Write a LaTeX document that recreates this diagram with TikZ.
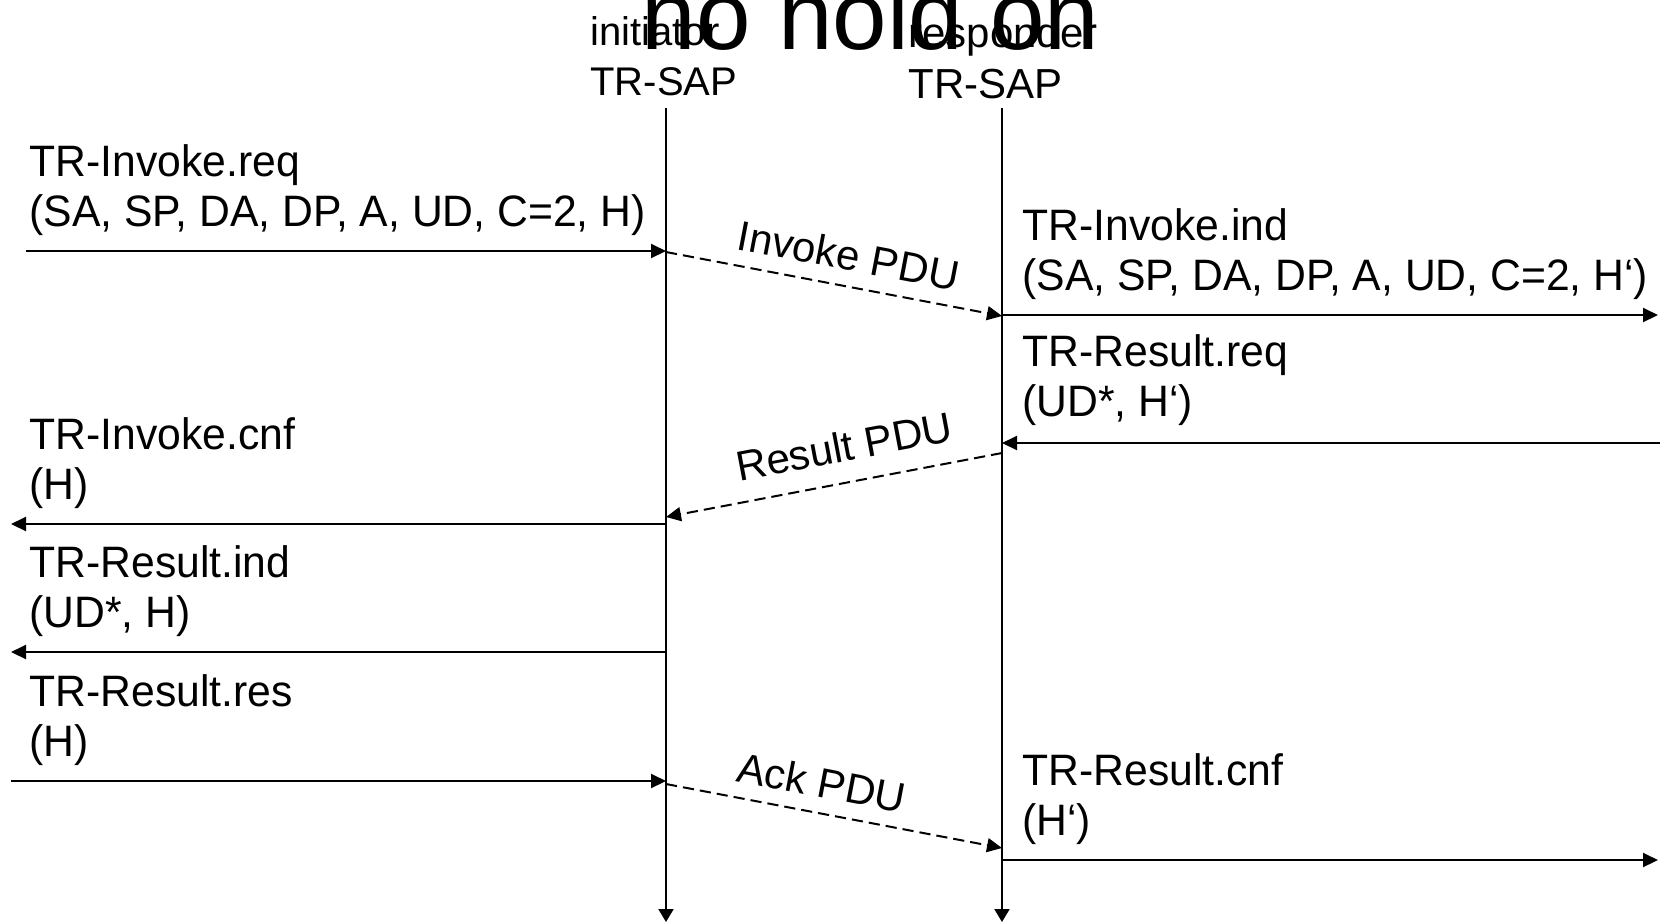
\documentclass[tikz,border=0pt]{standalone}
\usepackage{fontspec}
\setmainfont{Liberation Sans}
\newfontfamily\condfont[FakeStretch=0.97]{Liberation Sans}
\usetikzlibrary{arrows.meta}
\begin{document}
\begin{tikzpicture}[x=0.5pt,y=-0.5pt,
  msg/.style={line width=1pt, -{Triangle[length=7.5pt,width=7pt]}},
  pdu/.style={msg, dash pattern=on 5.6pt off 3pt},
  life/.style={line width=1pt, -{Triangle[length=6.5pt,width=7.5pt]}},
  lbl/.style={anchor=base west, inner sep=0pt, font=\condfont\fontsize{22pt}{26pt}\selectfont},
  hdr/.style={anchor=base west, inner sep=0pt, font=\fontsize{20pt}{24pt}\selectfont},
  rhdr/.style={anchor=base west, inner sep=0pt, font=\fontsize{21pt}{25pt}\selectfont},
  pdulbl/.style={anchor=base, inner sep=0pt, font=\fontsize{21pt}{25pt}\selectfont},
  titlefont/.style={anchor=base west, inner sep=0pt, font=\fontsize{49pt}{55pt}\selectfont}]
\useasboundingbox (0,0) rectangle (1661,923);

% headers
\node[hdr] (ih1) at (590,45) {initiator};
\node[hdr] (ih2) at (590,95) {TR-SAP};
\node[rhdr] (rh1) at (908,47) {responder};
\node[rhdr] (rh2) at (908,98) {TR-SAP};

% lifelines
\coordinate (Itop) at (666,108);
\coordinate (Ibot) at (666,922);
\coordinate (Rtop) at (1002,108);
\coordinate (Rbot) at (1002,922);
\draw[life] (Itop) -- (Ibot);
\draw[life] (Rtop) -- (Rbot);

% message end points
\coordinate (a1s) at (26,251);   \coordinate (a1e) at (666,251);
\coordinate (a2s) at (1002,315); \coordinate (a2e) at (1658,315);
\coordinate (a3s) at (1660,443); \coordinate (a3e) at (1002,443);
\coordinate (a4s) at (666,524);  \coordinate (a4e) at (11,524);
\coordinate (a5s) at (666,652);  \coordinate (a5e) at (11,652);
\coordinate (a6s) at (11,781);   \coordinate (a6e) at (666,781);
\coordinate (a7s) at (1002,860); \coordinate (a7e) at (1658,860);

\coordinate (p1s) at (666,252);  \coordinate (p1e) at (1002,316);
\coordinate (p2s) at (1002,453); \coordinate (p2e) at (666,517);
\coordinate (p3s) at (666,784);  \coordinate (p3e) at (1002,848);

\draw[msg] (a1s) -- (a1e);
\draw[msg] (a2s) -- (a2e);
\draw[msg] (a3s) -- (a3e);
\draw[msg] (a4s) -- (a4e);
\draw[msg] (a5s) -- (a5e);
\draw[msg] (a6s) -- (a6e);
\draw[msg] (a7s) -- (a7e);

\draw[pdu] (p1s) -- (p1e);
\draw[pdu] (p2s) -- (p2e);
\draw[pdu] (p3s) -- (p3e);

% PDU labels
\node[pdulbl, rotate=-10.8] (l1) at (846,270) {Invoke PDU};
\node[pdulbl, rotate=10.7] (l2) at (847,461) {Result PDU};
\node[pdulbl, rotate=-10.8] (l3) at (819,797) {Ack PDU};

% primitive labels
\node[lbl] (t1a) at (29,176) {TR-Invoke.req};
\node[lbl] (t1b) at (29,226) {(SA, SP, DA, DP, A, UD, C=2, H)};
\node[lbl] (t2a) at (1022,240) {TR-Invoke.ind};
\node[lbl] (t2b) at (1022,290) {(SA, SP, DA, DP, A, UD, C=2, H‘)};
\node[lbl] (t3a) at (1022,366) {TR-Result.req};
\node[lbl] (t3b) at (1022,416) {(UD*, H‘)};
\node[lbl] (t4a) at (29,449) {TR-Invoke.cnf};
\node[lbl] (t4b) at (29,499) {(H)};
\node[lbl] (t5a) at (29,577) {TR-Result.ind};
\node[lbl] (t5b) at (29,627) {(UD*, H)};
\node[lbl] (t6a) at (29,706) {TR-Result.res};
\node[lbl] (t6b) at (29,756) {(H)};
\node[lbl] (t7a) at (1022,785) {TR-Result.cnf};
\node[lbl] (t7b) at (1022,835) {(H‘)};

% title
\node[titlefont] (title) at (641.5,49) {no hold on};
\end{tikzpicture}
\end{document}
